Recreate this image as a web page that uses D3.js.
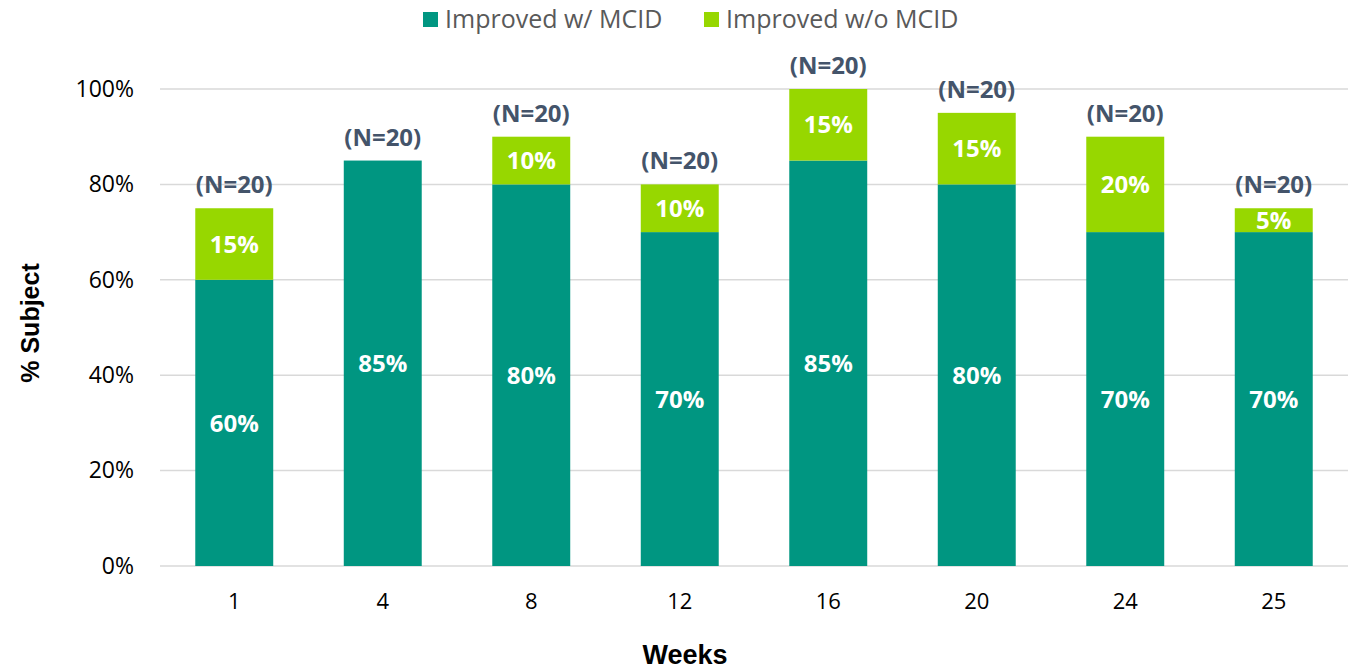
<!DOCTYPE html>
<html>
<head>
<meta charset="utf-8">
<script src="https://cdn.jsdelivr.net/npm/d3@7"></script>
<style>
  body { margin: 0; background: #fff; }
  svg { display: block; }
</style>
</head>
<body>
<svg id="chart" width="1363" height="671"></svg>
<script>
// Share of subjects improving, by study week
const weeks = ["1", "4", "8", "12", "16", "20", "24", "25"];
const withMCID = [60, 85, 80, 70, 85, 80, 70, 70];
const withoutMCID = [15, 0, 10, 10, 15, 15, 20, 5];
const sampleLabels = ["(N=20)", "(N=20)", "(N=20)", "(N=20)", "(N=20)", "(N=20)", "(N=20)", "(N=20)"];
const yTicks = [0, 20, 40, 60, 80, 100];
const seriesNames = ["Improved w/ MCID", "Improved w/o MCID"];
const colors = ["#009681", "#97D700"];

const svg = d3.select("#chart");
const margin = { left: 160, right: 15, top: 89, bottom: 105 };
const W = 1363, H = 671;
const font = "'Open Sans', sans-serif";
const titleFont = "Arial, 'Liberation Sans', sans-serif";

const x = d3.scaleBand().domain(weeks).range([margin.left, W - margin.right]).paddingInner(0.475).paddingOuter(0.2375);
const y = d3.scaleLinear().domain([0, 100]).range([H - margin.bottom, margin.top]);

// gridlines
svg.append("g").selectAll("line").data(yTicks).join("line")
  .attr("x1", margin.left).attr("x2", W - margin.right)
  .attr("y1", d => y(d)).attr("y2", d => y(d))
  .attr("stroke", "#d9d9d9").attr("stroke-width", 1.5);

// y axis tick labels
const yAxis = svg.append("g").attr("transform", `translate(${margin.left},0)`)
  .call(d3.axisLeft(y).tickValues(yTicks).tickFormat(d => d + "%").tickSize(0).tickPadding(26));
yAxis.select(".domain").remove();
yAxis.selectAll("text").attr("font-family", font).attr("font-size", 23).attr("fill", "#000");

// x axis tick labels
const xAxis = svg.append("g").attr("transform", `translate(0,${y(0)})`)
  .call(d3.axisBottom(x).tickSize(0).tickPadding(27));
xAxis.select(".domain").remove();
xAxis.selectAll("text").attr("font-family", font).attr("font-size", 22).attr("fill", "#000");

// stacked bars
const rows = weeks.map((w, i) => ({ week: w, a: withMCID[i], b: withoutMCID[i], n: sampleLabels[i] }));
const bars = svg.append("g");
bars.selectAll("rect.a").data(rows).join("rect").attr("class", "a")
  .attr("x", d => x(d.week)).attr("width", x.bandwidth())
  .attr("y", d => y(d.a)).attr("height", d => y(0) - y(d.a))
  .attr("fill", colors[0]);
bars.selectAll("rect.b").data(rows.filter(d => d.b > 0)).join("rect").attr("class", "b")
  .attr("x", d => x(d.week)).attr("width", x.bandwidth())
  .attr("y", d => y(d.a + d.b)).attr("height", d => y(d.a) - y(d.a + d.b))
  .attr("fill", colors[1]);

// value labels inside segments
bars.selectAll("text.a").data(rows).join("text").attr("class", "a")
  .attr("x", d => x(d.week) + x.bandwidth() / 2)
  .attr("y", d => (y(0) + y(d.a)) / 2)
  .attr("dy", "0.36em").attr("text-anchor", "middle")
  .attr("font-family", font).attr("font-weight", "bold").attr("font-size", 24)
  .attr("fill", "#fff").text(d => d.a + "%");
bars.selectAll("text.b").data(rows.filter(d => d.b > 0)).join("text").attr("class", "b")
  .attr("x", d => x(d.week) + x.bandwidth() / 2)
  .attr("y", d => (y(d.a) + y(d.a + d.b)) / 2)
  .attr("dy", "0.36em").attr("text-anchor", "middle")
  .attr("font-family", font).attr("font-weight", "bold").attr("font-size", 24)
  .attr("fill", "#fff").text(d => d.b + "%");

// sample size labels above bars
bars.selectAll("text.n").data(rows).join("text").attr("class", "n")
  .attr("x", d => x(d.week) + x.bandwidth() / 2)
  .attr("y", d => y(d.a + d.b) - 15)
  .attr("text-anchor", "middle")
  .attr("font-family", font).attr("font-weight", "bold").attr("font-size", 24)
  .attr("fill", "#44546A").text(d => d.n);

// axis titles
svg.append("text").attr("x", 685).attr("y", 664).attr("text-anchor", "middle")
  .attr("font-family", titleFont).attr("font-weight", "bold")
  .attr("font-size", 27).attr("fill", "#000").text("Weeks");
svg.append("text").attr("transform", "translate(39,323) rotate(-90)").attr("text-anchor", "middle")
  .attr("font-family", titleFont).attr("font-weight", "bold")
  .attr("font-size", 25).attr("fill", "#000").text("% Subject");

// legend
const legendX = [423, 704];
const legend = svg.append("g").selectAll("g").data(seriesNames).join("g")
  .attr("transform", (d, i) => `translate(${legendX[i]},12)`);
legend.append("rect").attr("width", 15).attr("height", 15).attr("fill", (d, i) => colors[i]);
legend.append("text").attr("x", 22).attr("y", 7).attr("dy", "0.36em")
  .attr("font-family", font).attr("font-size", 25)
  .attr("fill", "#595959").text(d => d);
</script>
</body>
</html>
